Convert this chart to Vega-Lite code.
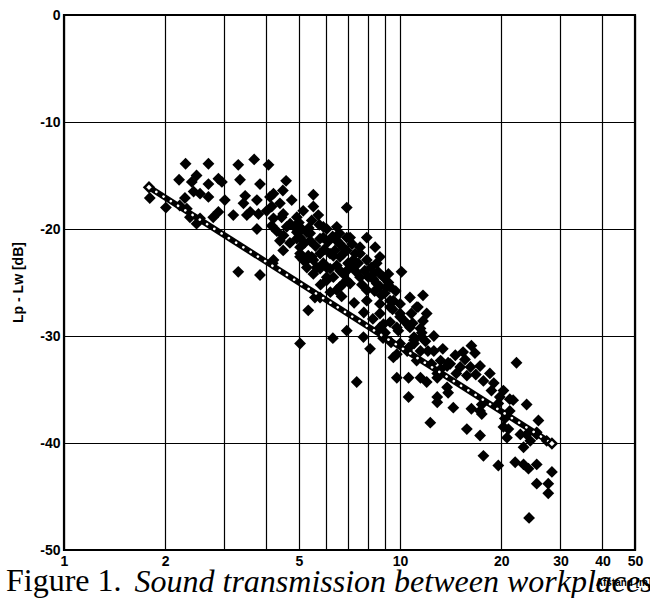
{
  "$schema": "https://vega.github.io/schema/vega-lite/v6.json",
  "width": 571,
  "height": 535,
  "autosize": {"type": "none"},
  "padding": {"left": 64, "top": 15, "right": 15, "bottom": 48},
  "background": "white",
  "config": {"view": {"stroke": "black", "strokeWidth": 2.2}},
  "title": {
    "text": "Figure 1.",
    "orient": "bottom",
    "anchor": "start",
    "frame": "group",
    "font": "Liberation Serif",
    "fontSize": 32,
    "fontWeight": "normal",
    "color": "black",
    "baseline": "alphabetic",
    "offset": -6,
    "dx": -58
  },
  "datasets": {
    "meas": [
      {"x":1.80,"y":-17.1},{"x":2.01,"y":-18.0},{"x":2.20,"y":-15.4},{"x":2.21,"y":-17.8},{"x":2.30,"y":-13.9},
      {"x":2.29,"y":-17.1},{"x":2.32,"y":-18.1},{"x":2.40,"y":-15.6},{"x":2.48,"y":-15.0},{"x":2.43,"y":-16.5},
      {"x":2.54,"y":-16.7},{"x":2.37,"y":-18.9},{"x":2.48,"y":-19.5},{"x":2.54,"y":-19.0},{"x":2.69,"y":-13.9},
      {"x":2.69,"y":-15.8},{"x":2.69,"y":-17.0},{"x":2.78,"y":-18.9},{"x":2.88,"y":-15.3},{"x":2.95,"y":-15.6},
      {"x":2.88,"y":-18.4},{"x":3.01,"y":-17.3},{"x":3.19,"y":-18.7},{"x":3.30,"y":-14.0},{"x":3.34,"y":-15.4},
      {"x":3.46,"y":-16.9},{"x":3.42,"y":-17.6},{"x":3.50,"y":-18.7},{"x":3.30,"y":-24.0},{"x":3.68,"y":-13.5},
      {"x":4.06,"y":-14.0},{"x":3.83,"y":-15.8},{"x":4.58,"y":-15.5},{"x":4.48,"y":-16.4},{"x":5.52,"y":-16.8},
      {"x":6.94,"y":-18.0},{"x":3.75,"y":-17.3},{"x":4.10,"y":-17.0},{"x":3.79,"y":-18.6},{"x":4.01,"y":-18.3},
      {"x":4.15,"y":-17.9},{"x":4.39,"y":-17.6},{"x":4.76,"y":-17.3},{"x":5.15,"y":-18.3},{"x":5.52,"y":-17.9},
      {"x":5.71,"y":-18.7},{"x":3.75,"y":-20.0},{"x":4.15,"y":-19.7},{"x":4.44,"y":-18.9},{"x":4.60,"y":-19.8},
      {"x":4.93,"y":-20.3},{"x":5.04,"y":-20.8},{"x":5.40,"y":-20.4},{"x":5.78,"y":-20.9},{"x":6.05,"y":-20.0},
      {"x":6.48,"y":-19.8},{"x":4.49,"y":-22.0},{"x":5.04,"y":-21.7},{"x":5.15,"y":-22.9},{"x":5.46,"y":-22.6},
      {"x":5.78,"y":-22.3},{"x":6.19,"y":-22.3},{"x":6.63,"y":-21.4},{"x":6.94,"y":-20.8},{"x":6.63,"y":-23.9},
      {"x":6.05,"y":-24.5},{"x":5.65,"y":-23.6},{"x":6.94,"y":-24.8},{"x":3.83,"y":-24.3},{"x":4.18,"y":-23.2},
      {"x":5.33,"y":-27.6},{"x":5.04,"y":-30.7},{"x":6.31,"y":-30.2},{"x":6.94,"y":-29.5},{"x":5.58,"y":-26.4},
      {"x":3.58,"y":-18.4},{"x":4.20,"y":-19.0},{"x":4.49,"y":-18.6},{"x":4.71,"y":-19.5},{"x":4.93,"y":-18.9},
      {"x":5.10,"y":-20.0},{"x":5.46,"y":-19.2},{"x":5.40,"y":-21.1},{"x":5.91,"y":-20.8},{"x":6.48,"y":-21.1},
      {"x":7.10,"y":-20.8},{"x":7.96,"y":-20.8},{"x":8.43,"y":-21.7},{"x":7.60,"y":-21.7},{"x":6.94,"y":-22.0},
      {"x":6.63,"y":-22.6},{"x":7.26,"y":-22.9},{"x":7.96,"y":-22.9},{"x":8.52,"y":-23.2},{"x":6.19,"y":-23.7},
      {"x":5.28,"y":-23.6},{"x":5.04,"y":-22.6},{"x":4.20,"y":-22.9},{"x":6.78,"y":-24.2},{"x":7.60,"y":-24.5},
      {"x":8.33,"y":-24.2},{"x":8.92,"y":-24.5},{"x":9.13,"y":-25.4},{"x":4.20,"y":-16.7},{"x":5.91,"y":-19.8},
      {"x":5.28,"y":-20.3},{"x":6.78,"y":-22.3},{"x":7.60,"y":-22.3},{"x":7.26,"y":-23.6},{"x":6.48,"y":-23.4},
      {"x":5.78,"y":-23.7},{"x":5.52,"y":-22.9},{"x":9.23,"y":-24.2},{"x":10.1,"y":-24.0},{"x":8.33,"y":-24.7},
      {"x":8.71,"y":-25.4},{"x":7.96,"y":-25.7},{"x":9.34,"y":-25.4},{"x":6.78,"y":-25.1},{"x":6.48,"y":-25.7},
      {"x":6.05,"y":-24.8},{"x":5.78,"y":-26.4},{"x":9.55,"y":-26.7},{"x":10.0,"y":-27.0},{"x":10.7,"y":-26.4},
      {"x":11.7,"y":-26.2},{"x":11.3,"y":-27.3},{"x":12.0,"y":-27.9},{"x":10.8,"y":-27.9},{"x":10.0,"y":-27.9},
      {"x":9.34,"y":-27.3},{"x":8.71,"y":-27.9},{"x":8.92,"y":-28.9},{"x":9.78,"y":-29.2},{"x":10.7,"y":-29.2},
      {"x":11.5,"y":-29.3},{"x":11.6,"y":-30.1},{"x":10.6,"y":-31.1},{"x":9.78,"y":-31.7},{"x":10.0,"y":-30.7},
      {"x":11.0,"y":-30.1},{"x":12.6,"y":-31.4},{"x":13.2,"y":-32.3},{"x":14.1,"y":-32.6},{"x":15.1,"y":-32.9},
      {"x":16.2,"y":-32.9},{"x":15.4,"y":-31.5},{"x":16.3,"y":-30.9},{"x":17.3,"y":-32.8},{"x":18.5,"y":-33.5},
      {"x":20.3,"y":-35.1},{"x":21.7,"y":-36.0},{"x":23.8,"y":-36.4},{"x":22.2,"y":-32.5},{"x":25.8,"y":-37.9},
      {"x":25.5,"y":-39.2},{"x":27.3,"y":-39.8},{"x":7.78,"y":-30.1},{"x":8.14,"y":-31.2},{"x":7.43,"y":-34.3},
      {"x":9.78,"y":-33.9},{"x":10.6,"y":-35.7},{"x":12.3,"y":-38.1},{"x":12.9,"y":-35.7},{"x":14.4,"y":-36.7},
      {"x":15.8,"y":-38.7},{"x":17.3,"y":-39.3},{"x":16.3,"y":-36.8},{"x":13.9,"y":-35.3},{"x":17.5,"y":-36.4},
      {"x":19.8,"y":-35.7},{"x":20.8,"y":-39.5},{"x":22.8,"y":-39.2},{"x":24.4,"y":-39.8},{"x":8.71,"y":-22.6},
      {"x":9.23,"y":-25.0},{"x":8.52,"y":-25.1},{"x":7.10,"y":-25.1},{"x":6.63,"y":-25.4},{"x":6.33,"y":-24.5},
      {"x":6.94,"y":-23.9},{"x":6.05,"y":-23.6},{"x":5.52,"y":-24.2},{"x":5.33,"y":-22.5},{"x":6.33,"y":-22.5},
      {"x":7.35,"y":-22.3},{"x":7.96,"y":-26.7},{"x":8.71,"y":-27.0},{"x":9.34,"y":-26.7},{"x":10.0,"y":-28.2},
      {"x":9.34,"y":-28.7},{"x":8.71,"y":-29.2},{"x":9.02,"y":-29.7},{"x":9.88,"y":-29.5},{"x":10.6,"y":-29.0},
      {"x":11.6,"y":-29.7},{"x":11.0,"y":-30.4},{"x":10.5,"y":-31.4},{"x":11.5,"y":-31.4},{"x":12.1,"y":-31.4},
      {"x":11.2,"y":-32.3},{"x":12.4,"y":-32.6},{"x":13.8,"y":-32.8},{"x":12.9,"y":-33.9},{"x":13.8,"y":-34.8},
      {"x":11.5,"y":-33.9},{"x":10.6,"y":-33.9},{"x":4.39,"y":-21.1},{"x":4.93,"y":-20.9},{"x":5.04,"y":-22.3},
      {"x":5.28,"y":-22.9},{"x":5.91,"y":-23.2},{"x":13.9,"y":-32.5},{"x":13.2,"y":-33.1},{"x":14.7,"y":-33.5},
      {"x":15.8,"y":-33.7},{"x":17.7,"y":-34.2},{"x":18.7,"y":-35.1},{"x":21.2,"y":-35.9},{"x":12.9,"y":-36.2},
      {"x":17.5,"y":-37.3},{"x":21.0,"y":-38.7},{"x":23.8,"y":-39.2},{"x":25.5,"y":-39.0},{"x":23.3,"y":-40.4},
      {"x":17.7,"y":-41.2},{"x":19.6,"y":-42.1},{"x":22.0,"y":-41.8},{"x":23.3,"y":-42.0},{"x":24.1,"y":-42.4},
      {"x":25.5,"y":-42.0},{"x":28.3,"y":-42.7},{"x":25.5,"y":-43.8},{"x":27.6,"y":-43.8},{"x":27.6,"y":-44.7},
      {"x":24.2,"y":-47.0},{"x":9.55,"y":-32.0},{"x":11.0,"y":-30.7},{"x":11.7,"y":-28.6},{"x":11.2,"y":-27.3},
      {"x":16.7,"y":-31.6},{"x":12.0,"y":-34.3},{"x":12.9,"y":-33.5},{"x":17.3,"y":-37.0},{"x":20.3,"y":-38.5},
      {"x":21.2,"y":-37.0},{"x":20.5,"y":-37.7},
      {"x":4.3,"y":-20.2},{"x":4.5,"y":-20.6},{"x":4.7,"y":-21.3},{"x":4.85,"y":-19.8},{"x":5.0,"y":-19.4},
      {"x":5.2,"y":-21.3},{"x":5.35,"y":-19.9},{"x":5.6,"y":-21.6},{"x":5.75,"y":-19.6},{"x":5.95,"y":-21.9},
      {"x":6.1,"y":-21.2},{"x":6.3,"y":-20.7},{"x":6.4,"y":-22.0},{"x":6.6,"y":-20.4},{"x":6.8,"y":-21.8},
      {"x":7.0,"y":-23.2},{"x":7.2,"y":-21.4},{"x":7.4,"y":-24.0},{"x":7.5,"y":-23.2},{"x":7.7,"y":-25.2},
      {"x":7.85,"y":-23.9},{"x":8.05,"y":-24.5},{"x":8.2,"y":-23.6},{"x":8.4,"y":-25.8},{"x":8.6,"y":-24.0},
      {"x":8.8,"y":-26.2},{"x":9.0,"y":-26.0},{"x":9.5,"y":-27.5},{"x":9.7,"y":-25.8},{"x":10.3,"y":-28.6},
      {"x":10.9,"y":-28.8},{"x":11.9,"y":-30.5},{"x":12.6,"y":-30.0},{"x":13.4,"y":-31.2},{"x":14.6,"y":-31.8},
      {"x":15.6,"y":-32.2},{"x":16.8,"y":-33.6},{"x":19.0,"y":-34.4},{"x":19.6,"y":-36.3},{"x":5.8,"y":-25.2},
      {"x":6.2,"y":-25.9},{"x":6.7,"y":-26.3},{"x":7.3,"y":-26.9},{"x":7.8,"y":-27.8},{"x":8.3,"y":-28.4},
      {"x":8.9,"y":-30.2},{"x":9.4,"y":-30.6}
    ],
    "fit": [
      {"x":1.79,"y":-16.1},{"x":28.3,"y":-40.05}
    ]
  },
  "encoding": {
    "y": {
      "field": "y",
      "type": "quantitative",
      "scale": {"domain": [-50, 0], "nice": false, "zero": false},
      "axis": {
        "values": [-50, -40, -30, -20, -10, 0],
        "labelExpr": "'' + datum.value",
        "title": "Lp - Lw [dB]",
        "titleFont": "Liberation Sans",
        "titleFontSize": 14,
        "titleFontWeight": "bold",
        "titleColor": "black",
        "titleX": -46,
        "titleY": 267,
        "titleAngle": -90,
        "titleBaseline": "middle",
        "titleAlign": "center",
        "labelFont": "Liberation Sans",
        "labelFontSize": 14,
        "labelFontWeight": "bold",
        "labelColor": "black",
        "labelPadding": 4,
        "labelFlush": false,
        "labelOverlap": false,
        "ticks": false,
        "tickSize": 0,
        "domain": false,
        "grid": true,
        "gridColor": "black",
        "gridWidth": 1.2,
        "gridOpacity": 1
      }
    }
  },
  "layer": [
    {
      "data": {"name": "meas"},
      "mark": {"type": "point", "shape": "diamond", "filled": true, "color": "black", "opacity": 1, "size": 140},
      "encoding": {
        "x": {
          "field": "x",
          "type": "quantitative",
          "scale": {"type": "log", "domain": [1, 50], "nice": false},
          "axis": {
            "orient": "bottom",
            "values": [1, 2, 3, 4, 5, 6, 7, 8, 9, 10, 20, 30, 40, 50],
            "labelExpr": "indexof([1,2,5,10,20,30,40,50], datum.value) >= 0 ? '' + datum.value : ''",
            "labelFont": "Liberation Sans",
            "labelFontSize": 14,
            "labelFontWeight": "bold",
            "labelColor": "black",
            "labelPadding": 4,
            "labelFlush": false,
            "labelOverlap": false,
            "ticks": false,
            "tickSize": 0,
            "domain": false,
            "grid": true,
            "gridColor": "black",
            "gridWidth": 1.2,
            "gridOpacity": 1,
            "title": "Sound transmission between workplaces",
            "titleFont": "Liberation Serif",
            "titleFontSize": 32,
            "titleFontStyle": "italic",
            "titleFontWeight": "normal",
            "titleColor": "black",
            "titleX": 70,
            "titleY": 41,
            "titleAlign": "left",
            "titleBaseline": "alphabetic"
          }
        }
      }
    },
    {
      "data": {"name": "fit"},
      "mark": {"type": "line", "color": "black", "strokeWidth": 6},
      "encoding": {
        "x": {
          "field": "x",
          "type": "quantitative",
          "scale": {"type": "log", "domain": [1, 50], "nice": false},
          "axis": {
            "orient": "top",
            "labels": false,
            "ticks": false,
            "domain": false,
            "grid": false,
            "title": "Afstand [m]",
            "titleFont": "Liberation Sans",
            "titleFontSize": 10,
            "titleFontWeight": "bold",
            "titleColor": "black",
            "titleX": 559,
            "titleY": 567,
            "titleAlign": "center",
            "titleBaseline": "middle"
          }
        }
      }
    },
    {
      "data": {"name": "fit"},
      "mark": {"type": "line", "color": "white", "strokeWidth": 2.6, "strokeDash": [0.1, 8.5], "strokeCap": "round"},
      "encoding": {
        "x": {"field": "x", "type": "quantitative", "scale": {"type": "log", "domain": [1, 50], "nice": false}, "axis": null}
      }
    },
    {
      "data": {"name": "fit"},
      "mark": {"type": "point", "shape": "diamond", "filled": true, "fill": "white", "stroke": "black", "strokeWidth": 2.5, "size": 80, "opacity": 1},
      "encoding": {
        "x": {"field": "x", "type": "quantitative", "scale": {"type": "log", "domain": [1, 50], "nice": false}, "axis": null}
      }
    }
  ],
  "resolve": {"axis": {"x": "independent"}}
}
